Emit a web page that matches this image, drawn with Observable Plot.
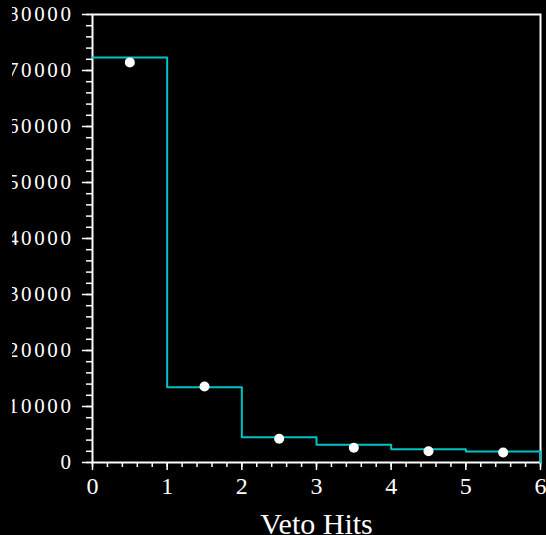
<!DOCTYPE html>
<html>
<head>
<meta charset="utf-8">
<script src="https://cdn.jsdelivr.net/npm/d3@7"></script>
<script src="https://cdn.jsdelivr.net/npm/@observablehq/plot@0.6"></script>
<style>
  html, body { margin: 0; padding: 0; background: #000; width: 546px; height: 535px; overflow: hidden; }
  #chart { position: absolute; left: 12px; top: 0; }
  #chart svg { overflow: hidden; font-family: 'Liberation Serif', 'Times New Roman', serif; }
  #chart svg text { font-family: 'Liberation Serif', 'Times New Roman', serif; }
  g[aria-label="y-axis tick label"] text { letter-spacing: 2.6px; }
</style>
</head>
<body>
<div id="chart"></div>
<script>
const edges = [0, 1, 2, 3, 4, 5, 6];
const counts = [72300, 13450, 4520, 3160, 2380, 1960];
const pointX = [0.5, 1.5, 2.5, 3.5, 4.5, 5.5];
const pointY = [71450, 13570, 4230, 2620, 2020, 1790];
const yTicks = [0, 10000, 20000, 30000, 40000, 50000, 60000, 70000, 80000];
const xTicks = [0, 1, 2, 3, 4, 5, 6];
const xLabel = "Veto Hits";

const steps = edges.map((e, i) => ({x: e, y: i < counts.length ? counts[i] : counts[counts.length - 1]}));
steps.push({x: edges[edges.length - 1], y: 0});
const points = pointX.map((x, i) => ({x, y: pointY[i]}));

const yMinor = d3.range(0, 80001, 2000);
const xMinor = d3.range(0, 6.0001, 0.2);
const font = "Liberation Serif";

const plot = Plot.plot({
  width: 534,
  height: 535,
  marginLeft: 80,
  marginRight: 6,
  marginTop: 14,
  marginBottom: 73,
  style: {background: "black", color: "white"},
  x: {domain: [0, 6]},
  y: {domain: [0, 80000]},
  marks: [
    Plot.frame({stroke: "white", strokeWidth: 2}),
    Plot.axisY(yMinor, {tickSize: 6, tickFormat: () => "", label: null, stroke: "white", strokeWidth: 1.5}),
    Plot.axisY(yTicks, {tickSize: 10, tickPadding: 9, tickFormat: d => String(d), label: null, fontSize: 21, fontFamily: font, stroke: "white", strokeWidth: 1.5}),
    Plot.axisX(xMinor, {tickSize: 5, tickFormat: () => "", label: null, stroke: "white", strokeWidth: 1.5}),
    Plot.axisX(xTicks, {tickSize: 8, tickPadding: 6, tickFormat: d => String(d), label: null, fontSize: 24, fontFamily: font, stroke: "white", strokeWidth: 1.5}),
    Plot.line(steps, {x: "x", y: "y", curve: "step-after", stroke: "#00c4c4", strokeWidth: 2}),
    Plot.dot(points, {x: "x", y: "y", r: 5, fill: "white", stroke: "none"}),
    Plot.text([xLabel], {frameAnchor: "bottom", dy: 71, lineAnchor: "bottom", text: d => d, fontSize: 30, fill: "white", fontFamily: font})
  ]
});
document.getElementById("chart").appendChild(plot);
</script>
</body>
</html>
